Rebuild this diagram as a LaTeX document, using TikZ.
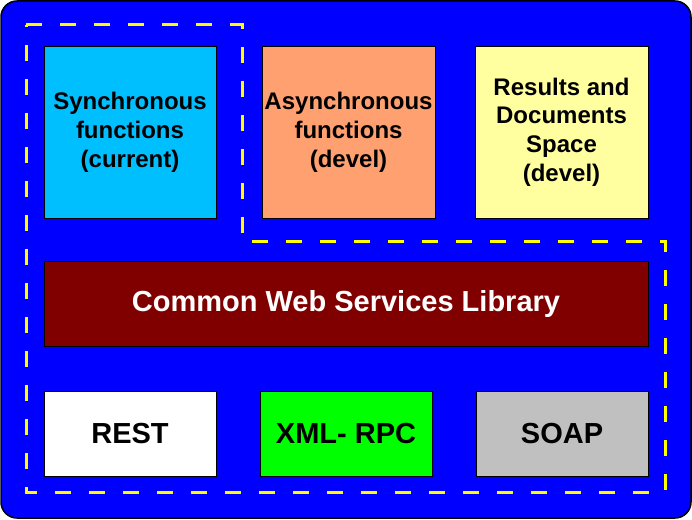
\documentclass[tikz,border=0pt]{standalone}
\usepackage{fontspec}
\setmainfont{Liberation Sans}
\definecolor{bgblue}{RGB}{0,0,255}
\definecolor{syncblue}{RGB}{0,191,255}
\definecolor{asyncsalmon}{RGB}{255,160,112}
\definecolor{resyellow}{RGB}{255,255,160}
\definecolor{libmaroon}{RGB}{128,0,0}
\definecolor{xmlgreen}{RGB}{0,255,0}
\definecolor{soapgrey}{RGB}{192,192,192}
\definecolor{dashyellow}{RGB}{255,255,0}
\tikzset{
  box/.style={draw=black, line width=0.9pt, align=center, inner sep=0pt},
  topbox/.style={box, minimum height=172pt, font=\fontsize{24}{28.8}\selectfont\bfseries},
  lowbox/.style={box, minimum height=85pt, minimum width=172pt, font=\fontsize{29}{34}\selectfont\bfseries},
  layerline/.style={draw=dashyellow, line width=3pt, dash pattern=on 16pt off 18pt}
}
\begin{document}
\begin{tikzpicture}[x=1pt, y=-1pt]
\useasboundingbox (0,0) rectangle (692,519);
\draw[fill=bgblue, draw=black, line width=1.5pt, rounded corners=16pt] (1,1) rectangle (691,518);
\draw[layerline] (26,25) -- (242,25) -- (242,241) -- (665,241) -- (665,492) -- (26,492) -- cycle;
\node[topbox, fill=syncblue, minimum width=172pt] (sync) at (130,132) {Synchronous\\functions\\(current)};
\node[topbox, fill=asyncsalmon, minimum width=173pt] (async) at (348.5,132) {Asynchronous\\functions\\(devel)};
\node[topbox, fill=resyellow, minimum width=173pt] (results) at (561.5,132) {Results and\\Documents\\Space\\(devel)};
\node[lowbox, fill=libmaroon, minimum width=604pt, text=white] (lib) at (346,303.5) {Common Web Services Library};
\node[lowbox, fill=white] (rest) at (130,433.5) {REST};
\node[lowbox, fill=xmlgreen] (xmlrpc) at (346,433.5) {XML- RPC};
\node[lowbox, fill=soapgrey] (soap) at (562,433.5) {SOAP};
\end{tikzpicture}
\end{document}
